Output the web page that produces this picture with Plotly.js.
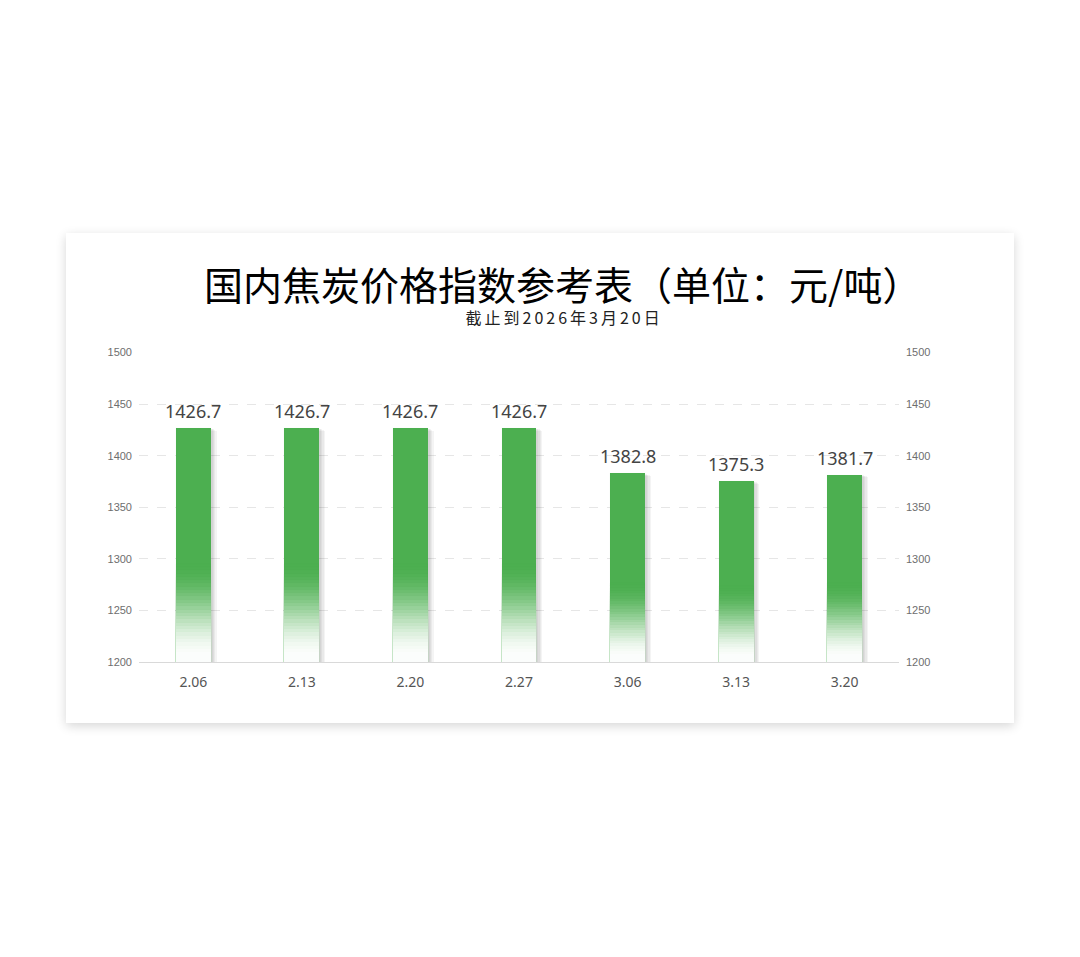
<!DOCTYPE html>
<html>
<head>
<meta charset="utf-8">
<script src="https://cdn.plot.ly/plotly-3.0.1.min.js"></script>
<style>
  html, body { margin: 0; padding: 0; background: #ffffff; }
  #card {
    position: absolute; left: 66px; top: 233px; width: 948px; height: 490px;
    background: #ffffff; box-shadow: 0 3px 10px rgba(0,0,0,0.16);
  }
  #chart { width: 948px; height: 490px; }
</style>
</head>
<body>
<div id="card"><div id="chart"></div></div>
<script>
const categories = ['2.06', '2.13', '2.20', '2.27', '3.06', '3.13', '3.20'];
const values = [1426.7, 1426.7, 1426.7, 1426.7, 1382.8, 1375.3, 1381.7];
const yTicks = [1200, 1250, 1300, 1350, 1400, 1450, 1500];
const titleText = '国内焦炭价格指数参考表（单位：元/吨）';
const subtitleText = '截止到2026年3月20日';

// visual style: lower part of each bar fades to white, soft shadow on the right
const axisMin = 1200;
const fadeShare = 0.42;
const fadeSteps = 30;
const barColor = [76, 175, 80];
const barWidth = 0.32;
const shadowLayers = 4;

function blend(a) {
  const c = barColor.map(v => Math.round(255 - (255 - v) * a));
  return 'rgb(' + c.join(',') + ')';
}

const traces = [];
// soft shadow layers (behind the bars)
for (let j = shadowLayers; j >= 1; j--) {
  traces.push({
    type: 'bar', x: categories, y: values.map(v => v - axisMin - j * 0.6), base: axisMin,
    width: barWidth + 0.012 * j, offset: -barWidth / 2 + 0.006,
    marker: { color: 'rgba(0,0,0,0.045)', line: { width: 0 } },
    hoverinfo: 'skip', showlegend: false
  });
}
// solid upper part of each bar (reaches slightly into the fade zone)
traces.push({
  type: 'bar', x: categories,
  base: values.map(v => axisMin + (v - axisMin) * fadeShare - 3),
  y: values.map(v => (v - axisMin) * (1 - fadeShare) + 3),
  width: barWidth, offset: -barWidth / 2,
  marker: { color: blend(1), line: { width: 0.02, color: blend(1) } },
  hoverinfo: 'skip', showlegend: false
});
// fading lower part, drawn from tallest to shortest
for (let k = fadeSteps - 1; k >= 0; k--) {
  const t = 1 - (k + 0.5) / fadeSteps;          // 0 at fade top, 1 at bottom
  const alpha = Math.max(0.5 * (1 + Math.cos(Math.PI * t)), 0.02);
  traces.push({
    type: 'bar', x: categories,
    y: values.map(v => (v - axisMin) * fadeShare * (k + 1) / fadeSteps),
    base: axisMin,
    width: barWidth, offset: -barWidth / 2,
    marker: { color: blend(alpha), line: { width: 0.02, color: blend(alpha) } },
    hoverinfo: 'skip', showlegend: false
  });
}
// invisible trace so the right-hand axis is drawn
traces.push({
  type: 'scatter', mode: 'markers',
  x: categories, y: values, yaxis: 'y2',
  marker: { opacity: 0 }, hoverinfo: 'skip', showlegend: false
});

const labelAnnotations = categories.map((c, i) => ({
  x: i, y: values[i], xref: 'x', yref: 'y',
  text: values[i].toFixed(1),
  showarrow: false, xanchor: 'center', yanchor: 'bottom', yshift: 3,
  font: { family: 'Noto Sans, sans-serif', size: 18, color: '#444444' }
}));

const axisY = {
  range: [1199.9, 1500.6],
  tickvals: yTicks,
  ticktext: yTicks.map(String),
  tickfont: { family: 'Liberation Sans, Arial, sans-serif', size: 11, color: '#6e6e6e' },
  showline: false, zeroline: false, ticks: '', fixedrange: true,
  ticklabelstandoff: 6
};

const layout = {
  width: 948, height: 490,
  margin: { l: 73, r: 115, t: 119, b: 61 },
  paper_bgcolor: '#ffffff', plot_bgcolor: '#ffffff',
  showlegend: false,
  barmode: 'overlay',
  bargap: 0, bargroupgap: 0,
  hovermode: false,
  title: {
    text: titleText,
    font: { family: 'Noto Sans CJK SC, sans-serif', size: 39, color: '#000000' },
    xref: 'container', x: 0.524, xanchor: 'center',
    yref: 'container', y: 0.891, yanchor: 'middle'
  },
  annotations: [{
    text: subtitleText,
    xref: 'paper', yref: 'paper', x: 0.559, y: 1.113,
    xanchor: 'center', yanchor: 'middle', showarrow: false,
    font: { family: 'Noto Sans CJK SC, sans-serif', size: 16, color: '#222222' }
  }].concat(labelAnnotations),
  xaxis: {
    type: 'category',
    tickfont: { family: 'Noto Sans, sans-serif', size: 14, color: '#555555' },
    showline: true, linecolor: '#d9d9d9', linewidth: 1,
    showgrid: false, ticks: '', fixedrange: true,
    ticklabelstandoff: 7
  },
  yaxis: Object.assign({}, axisY, {
    side: 'left', showgrid: true, gridcolor: '#e6e6e6', griddash: 'dash', gridwidth: 1
  }),
  yaxis2: Object.assign({}, axisY, {
    side: 'right', overlaying: 'y', showgrid: false
  })
};

function styleExtras(gd) {
  gd.querySelectorAll('.annotation-text').forEach(t => {
    if (t.textContent === subtitleText) t.style.letterSpacing = '3px';
  });
}

const gd = document.getElementById('chart');
Plotly.newPlot(gd, traces, layout, { displayModeBar: false, responsive: false })
  .then(() => { styleExtras(gd); gd.on('plotly_afterplot', () => styleExtras(gd)); });
</script>
</body>
</html>
